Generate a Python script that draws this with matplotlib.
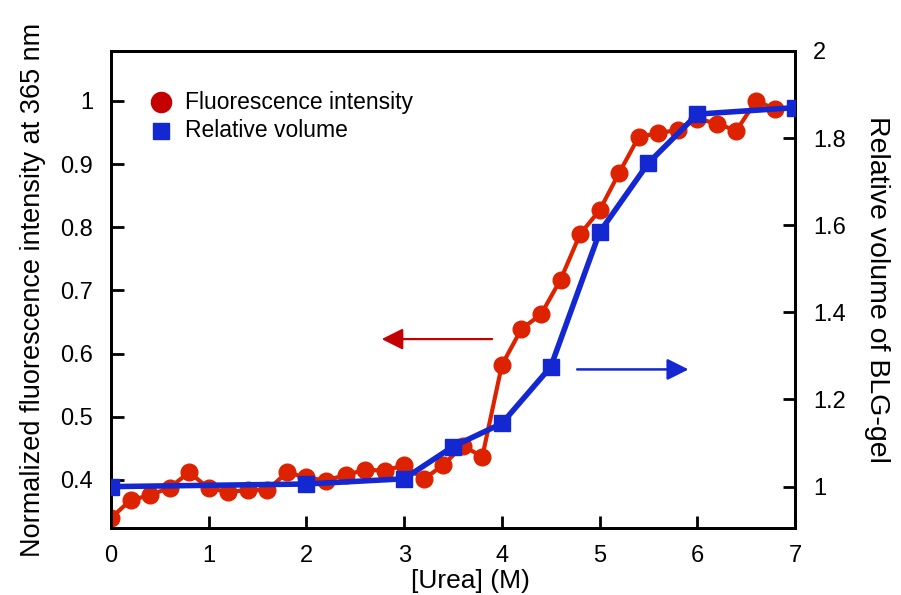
import matplotlib
matplotlib.use("Agg")
import matplotlib.pyplot as plt

plt.rcParams['font.family'] = ['Liberation Sans', 'DejaVu Sans']

# Fluorescence intensity (left axis) vs urea concentration
urea_fl = [0.0, 0.2, 0.4, 0.6, 0.8, 1.0, 1.2, 1.4, 1.6, 1.8, 2.0, 2.2, 2.4, 2.6,
           2.8, 3.0, 3.2, 3.4, 3.6, 3.8, 4.0, 4.2, 4.4, 4.6, 4.8, 5.0, 5.2, 5.4,
           5.6, 5.8, 6.0, 6.2, 6.4, 6.6, 6.8]
fluorescence = [0.340, 0.368, 0.376, 0.388, 0.412, 0.387, 0.381, 0.384, 0.384,
                0.412, 0.404, 0.399, 0.408, 0.416, 0.415, 0.423, 0.401, 0.424,
                0.454, 0.437, 0.582, 0.639, 0.662, 0.717, 0.789, 0.827, 0.886,
                0.943, 0.949, 0.954, 0.972, 0.964, 0.953, 1.000, 0.987]

# Relative gel volume (right axis)
urea_vol = [0.0, 2.0, 3.0, 3.5, 4.0, 4.5, 5.0, 5.5, 6.0, 7.0]
rel_volume = [1.000, 1.006, 1.018, 1.092, 1.145, 1.275, 1.584, 1.743, 1.855, 1.870]

left_ticks = [0.4, 0.5, 0.6, 0.7, 0.8, 0.9, 1.0]
left_labels = ['0.4', '0.5', '0.6', '0.7', '0.8', '0.9', '1']
right_ticks = [1.0, 1.2, 1.4, 1.6, 1.8, 2.0]
right_labels = ['1', '1.2', '1.4', '1.6', '1.8', '2']
x_ticks = [0, 1, 2, 3, 4, 5, 6, 7]

red = '#dd2200'
red_dark = '#c40000'
blue = '#1428d2'

fig = plt.figure(figsize=(9.01, 5.95), dpi=100)
ax = fig.add_axes([0.1232, 0.1126, 0.7592, 0.8017])
ax2 = ax.twinx()

ax.plot(urea_fl, fluorescence, '-o', color=red, lw=3, ms=12, mec=red, mfc=red, zorder=3)
ax2.plot(urea_vol, rel_volume, '-s', color=blue, lw=4, ms=11, mec=blue, mfc=blue, zorder=3)

ax.set_xlim(0, 7)
ax.set_ylim(0.324, 1.079)
ax2.set_ylim(0.905, 2.0)

ax.set_xticks(x_ticks)
ax.set_xticklabels([str(t) for t in x_ticks])
ax.set_yticks(left_ticks)
ax.set_yticklabels(left_labels)
ax2.set_yticks(right_ticks)
ax2.set_yticklabels(right_labels)

for a in (ax, ax2):
    for s in a.spines.values():
        s.set_linewidth(2)
ax.tick_params(axis='y', direction='in', length=9, width=2, labelsize=17, pad=13)
ax.tick_params(axis='x', direction='in', length=9, width=2, labelsize=17, pad=12)
ax2.tick_params(axis='y', direction='in', length=9, width=2, labelsize=17, pad=13)

ax.set_xlabel('[Urea] (M)', fontsize=19)
ax.xaxis.set_label_coords(0.525, -0.085)
ax.set_ylabel('Normalized fluorescence intensity at 365 nm', fontsize=19.5, labelpad=10)
ax2.set_ylabel('Relative volume of BLG-gel', fontsize=20.5, rotation=270, labelpad=32)

# Legend
ax.plot([0.51], [0.998], 'o', color=red_dark, ms=14.5, clip_on=False)
ax.text(0.76, 0.998, 'Fluorescence intensity', fontsize=16.5, va='center', ha='left')
ax.plot([0.51], [0.953], 's', color=blue, ms=12, clip_on=False)
ax.text(0.76, 0.953, 'Relative volume', fontsize=16.5, va='center', ha='left')

# Arrows pointing to each series' axis
ax.annotate('', xy=(2.77, 0.623), xytext=(3.9, 0.623),
            arrowprops=dict(arrowstyle='-|>,head_length=1.3,head_width=0.65',
                            color=red_dark, lw=1.6, shrinkA=0, shrinkB=0))
ax.annotate('', xy=(5.91, 0.575), xytext=(4.77, 0.575),
            arrowprops=dict(arrowstyle='-|>,head_length=1.3,head_width=0.65',
                            color=blue, lw=1.8, shrinkA=0, shrinkB=0))

fig.savefig('out.png', dpi=100)
